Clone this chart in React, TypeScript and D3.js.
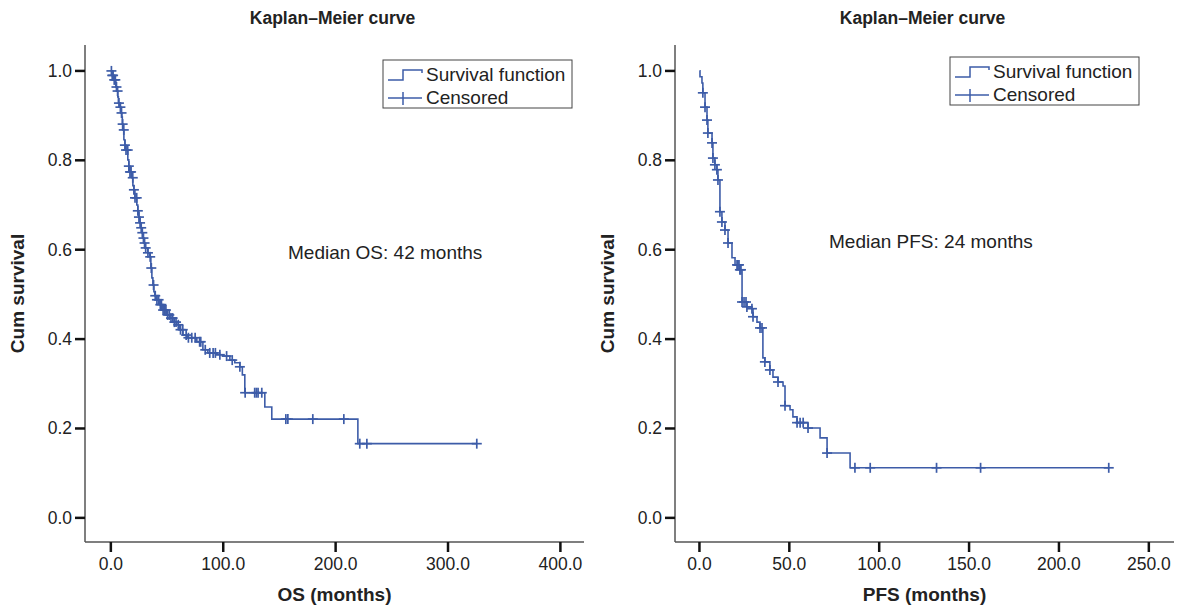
import React from 'react';
import * as d3 from 'd3';

// OS curve: event times (months) and survival after each event
const osTimes = [0, 0.9, 2.7, 4.4, 5.3, 6.2, 6.7, 8, 8.9, 9.8, 10.2, 10.7, 11.6, 12.5, 13.3, 15.1, 16, 16.9, 18.7, 19.6, 20.5, 21.4, 23.1, 24, 24.9, 25.8, 26.7, 27.6, 28.5, 29.4, 30.2, 32.9, 34.7, 35.6, 36.5, 37.4, 38.3, 39.1, 40.9, 43.6, 46.3, 49.8, 52.5, 55.2, 58.7, 61.4, 64.1, 68.5, 76.5, 81.9, 86.3, 94.3, 99.6, 105.9, 110.3, 114.8, 117, 119.2, 137, 143.2, 219.8];
const osSurv = [1, 0.99, 0.98, 0.964, 0.955, 0.942, 0.928, 0.919, 0.906, 0.897, 0.881, 0.868, 0.846, 0.834, 0.823, 0.801, 0.787, 0.774, 0.761, 0.743, 0.734, 0.716, 0.7, 0.687, 0.673, 0.66, 0.649, 0.638, 0.626, 0.615, 0.604, 0.593, 0.584, 0.559, 0.537, 0.521, 0.506, 0.497, 0.488, 0.477, 0.465, 0.454, 0.447, 0.438, 0.432, 0.421, 0.409, 0.403, 0.394, 0.376, 0.369, 0.365, 0.362, 0.353, 0.347, 0.338, 0.32, 0.28, 0.248, 0.221, 0.166];
const osCensored = [0.5, 1.2, 2, 3, 4, 5, 6, 7.2, 8.5, 9.5, 10.5, 11.5, 12.5, 13.5, 15, 16, 17, 18, 19.5, 20.5, 21.5, 23, 24, 25, 26, 27, 28, 29, 30, 31, 33, 35, 36, 38, 39.5, 41, 42.5, 44, 45, 46.5, 48, 49, 50.5, 52, 53.5, 55, 56.5, 58, 60, 62, 64, 67, 69, 72, 75, 79, 80, 84, 88, 91, 93, 97, 103, 108, 114.8, 119.5, 128, 129.5, 131, 134.3, 155.7, 157.5, 179.7, 207.3, 221.5, 227.8, 325.6];

// PFS curve
const pfsTimes = [0, 0.3, 1.4, 1.9, 3.1, 4.2, 4.7, 7, 7.5, 8.6, 9.7, 10.3, 11.4, 12.5, 14.2, 15.9, 18.1, 19.8, 22.5, 23.7, 26.4, 29.2, 29.8, 32, 33.7, 35.3, 36.4, 39.2, 40.9, 43.7, 46.5, 47.6, 50.4, 52, 54.3, 60.4, 67.1, 71, 83.8];
const pfsSurv = [1, 0.987, 0.973, 0.951, 0.919, 0.89, 0.861, 0.839, 0.805, 0.79, 0.779, 0.756, 0.685, 0.662, 0.644, 0.615, 0.582, 0.566, 0.555, 0.483, 0.472, 0.468, 0.45, 0.438, 0.425, 0.358, 0.349, 0.331, 0.315, 0.304, 0.295, 0.251, 0.242, 0.226, 0.213, 0.201, 0.179, 0.145, 0.112];
const pfsCensored = [1.9, 3.1, 4.2, 4.7, 7, 7.5, 8.6, 9.7, 10.3, 11.4, 12.5, 14.2, 15.9, 20.9, 21.4, 22, 22.5, 23.1, 23.7, 24.8, 25.9, 26.4, 29.2, 29.8, 33.7, 34.8, 36.4, 39.2, 43.7, 47.6, 54.3, 56, 57.7, 60.4, 71, 86.5, 95, 131.9, 156.4, 227.7];

const yTicks = [0, 0.2, 0.4, 0.6, 0.8, 1.0];
const osTicks = [0, 100, 200, 300, 400];
const pfsTicks = [0, 50, 100, 150, 200, 250];

const BLUE = '#3d5ca8';
const FONT = '"Liberation Sans", Arial, Helvetica, sans-serif';

interface PanelProps {
  times: number[];
  surv: number[];
  censored: number[];
  xDomain: [number, number];
  xRange: [number, number];
  xTicks: number[];
  xLabel: string;
  note: string;
  noteX: number;
  noteY: number;
  legendX: number;
  legendY: number;
}

const Panel: React.FC<PanelProps> = ({ times, surv, censored, xDomain, xRange, xTicks, xLabel, note, noteX, noteY, legendX, legendY }) => {
  const x = d3.scaleLinear().domain(xDomain).range(xRange);
  const y = d3.scaleLinear().domain([-0.054, 1.058]).range([542, 45]);
  const x0 = xRange[0];
  const xEnd = xRange[1];
  const yBase = y.range()[0];
  const yTop = y.range()[1];

  const survAt = (t: number) => surv[Math.max(0, d3.bisectRight(times, t) - 1)];
  const lastT = d3.max(censored) as number;
  const pts: [number, number][] = times.map((t, i) => [t, surv[i]]);
  pts.push([lastT, surv[surv.length - 1]]);
  const line = d3.line<[number, number]>()
    .x(d => x(d[0]))
    .y(d => y(d[1]))
    .curve(d3.curveStepAfter);

  const cx = (x0 + xEnd) / 2;

  return (
    <g>
      <text x={cx - 2} y={24} textAnchor="middle" fontWeight="bold" fontSize={17.5} fill="#222">Kaplan–Meier curve</text>
      {/* axes */}
      <line x1={x0} x2={x0} y1={yTop} y2={yBase} stroke="#555" strokeWidth={1.5} />
      <line x1={x0} x2={xEnd} y1={yBase} y2={yBase} stroke="#555" strokeWidth={1.5} />
      {yTicks.map(v => (
        <g key={v}>
          <line x1={x0 - 10} x2={x0} y1={y(v)} y2={y(v)} stroke="#111" strokeWidth={2.5} />
          <text x={x0 - 13} y={y(v) + 6} textAnchor="end" fontSize={17.5} fill="#222">{v.toFixed(1)}</text>
        </g>
      ))}
      {xTicks.map(v => (
        <g key={v}>
          <line x1={x(v)} x2={x(v)} y1={yBase} y2={yBase + 10} stroke="#111" strokeWidth={2.5} />
          <text x={x(v)} y={yBase + 28} textAnchor="middle" fontSize={17.5} fill="#222">{v.toFixed(1)}</text>
        </g>
      ))}
      <text x={cx} y={601} textAnchor="middle" fontWeight="bold" fontSize={19} fill="#222">{xLabel}</text>
      <text transform={`translate(${x0 - 61},${(yTop + yBase) / 2}) rotate(-90)`} textAnchor="middle" fontWeight="bold" fontSize={19} fill="#222">Cum survival</text>

      {/* curve */}
      <path d={line(pts) || ''} fill="none" stroke={BLUE} strokeWidth={1.6} />
      {censored.map((t, i) => {
        const px = x(t);
        const py = y(survAt(t));
        return (
          <g key={i} stroke={BLUE} strokeWidth={1.7}>
            <line x1={px - 5} x2={px + 5} y1={py} y2={py} />
            <line x1={px} x2={px} y1={py - 5} y2={py + 5} />
          </g>
        );
      })}

      <text x={noteX} y={noteY} fontSize={19} fill="#222">{note}</text>

      {/* legend */}
      <g transform={`translate(${legendX},${legendY})`}>
        <rect x={0} y={0} width={189} height={48} fill="#fff" stroke="#444" strokeWidth={1} />
        <path d="M5,20 H20 V10 H39 V13" fill="none" stroke={BLUE} strokeWidth={1.5} />
        <text x={43} y={21} fontSize={19} fill="#222">Survival function</text>
        <line x1={5} x2={39} y1={38} y2={38} stroke={BLUE} strokeWidth={1.5} />
        <line x1={20} x2={20} y1={32} y2={45} stroke={BLUE} strokeWidth={1.5} />
        <text x={43} y={44} fontSize={19} fill="#222">Censored</text>
      </g>
    </g>
  );
};

export default function App() {
  return (
    <svg width={1185} height={609} style={{ position: 'absolute', left: 0, top: 0, background: '#fff' }} fontFamily={FONT}>
      <rect width={1185} height={609} fill="#fff" />
      <Panel
        times={osTimes} surv={osSurv} censored={osCensored}
        xDomain={[-23, 421]} xRange={[85, 584]} xTicks={osTicks}
        xLabel="OS (months)" note="Median OS: 42 months" noteX={288} noteY={259}
        legendX={383} legendY={60}
      />
      <Panel
        times={pfsTimes} surv={pfsSurv} censored={pfsCensored}
        xDomain={[-13.6, 264]} xRange={[675, 1174]} xTicks={pfsTicks}
        xLabel="PFS (months)" note="Median PFS: 24 months" noteX={829} noteY={248}
        legendX={950} legendY={57}
      />
    </svg>
  );
}
